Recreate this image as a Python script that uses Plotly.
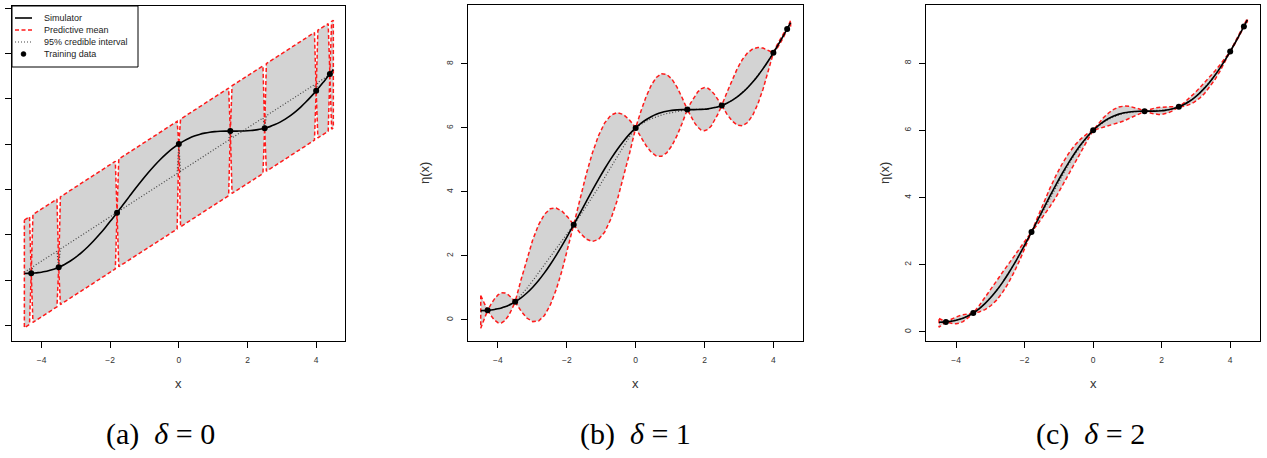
import plotly.graph_objects as go

# ---------------- data ----------------
train_x = [-4.3, -3.5, -1.8, 0.0, 1.5, 2.5, 4.0, 4.4]
train_y = [0.299, 0.564, 2.973, 6.000, 6.571, 6.699, 8.346, 9.093]

grid_x = [-4.5, -4.4, -4.3,
          -4.2, -4.1, -4.0, -3.9, -3.8, -3.7, -3.6, -3.5,
          -3.33, -3.16, -2.99, -2.82, -2.65, -2.48, -2.31, -2.14, -1.97, -1.8,
          -1.62, -1.44, -1.26, -1.08, -0.9, -0.72, -0.54, -0.36, -0.18, 0.0,
          0.15, 0.3, 0.45, 0.6, 0.75, 0.9, 1.05, 1.2, 1.35, 1.5,
          1.6, 1.7, 1.8, 1.9, 2.0, 2.1, 2.2, 2.3, 2.4, 2.5,
          2.65, 2.8, 2.95, 3.1, 3.25, 3.4, 3.55, 3.7, 3.85, 4.0,
          4.1, 4.2, 4.3, 4.4, 4.5]

sim_y = [0.289, 0.293, 0.299,
         0.310, 0.325, 0.346, 0.374, 0.409, 0.452, 0.503, 0.564,
         0.688, 0.840, 1.022, 1.231, 1.468, 1.731, 2.016, 2.321, 2.642, 2.973,
         3.331, 3.690, 4.046, 4.391, 4.722, 5.032, 5.318, 5.576, 5.804, 6.000,
         6.139, 6.255, 6.350, 6.425, 6.482, 6.522, 6.548, 6.562, 6.569, 6.571,
         6.571, 6.571, 6.573, 6.577, 6.584, 6.595, 6.612, 6.634, 6.663, 6.699,
         6.768, 6.858, 6.968, 7.101, 7.256, 7.433, 7.632, 7.852, 8.091, 8.346,
         8.525, 8.710, 8.899, 9.093, 9.289]

# panel (a): delta = 0
a_x = [-4.5, -4.35, -4.3, -4.25, -3.55, -3.5, -3.45, -1.85, -1.8, -1.75,
       -0.05, 0.0, 0.05, 1.45, 1.5, 1.55, 2.45, 2.5, 2.55, 3.95, 4.0, 4.05,
       4.35, 4.4, 4.45, 4.5]
a_upper = [2.64, 2.79, 0.30, 2.89, 3.57, 0.56, 3.67, 5.24, 2.97, 5.34,
           7.00, 6.00, 7.10, 8.47, 6.57, 8.57, 9.45, 6.70, 9.55, 10.92, 8.35, 11.02,
           11.31, 9.09, 11.41, 11.46]
a_lower = [-2.11, -1.96, 0.30, -1.87, -1.18, 0.56, -1.08, 0.49, 2.97, 0.59,
           2.25, 6.00, 2.35, 3.72, 6.57, 3.82, 4.70, 6.70, 4.80, 6.17, 8.35, 6.27,
           6.56, 9.09, 6.66, 6.71]
a_mean = [0.34, 0.49, 0.30, 0.59, 1.27, 0.56, 1.37, 2.94, 2.97, 3.04,
          4.70, 6.00, 4.80, 6.17, 6.57, 6.27, 7.15, 6.70, 7.25, 8.62, 8.35, 8.72,
          9.01, 9.09, 9.11, 9.16]

# panel (b): delta = 1
b_mean = [0.25, 0.28, 0.299,
          0.310, 0.325, 0.346, 0.374, 0.409, 0.452, 0.503, 0.564,
          0.765, 0.987, 1.224, 1.469, 1.718, 1.969, 2.218, 2.468, 2.719, 2.973,
          3.248, 3.531, 3.828, 4.134, 4.452, 4.775, 5.100, 5.417, 5.721, 6.000,
          6.114, 6.208, 6.285, 6.349, 6.402, 6.446, 6.483, 6.515, 6.544, 6.571,
          6.571, 6.571, 6.573, 6.577, 6.584, 6.595, 6.612, 6.634, 6.663, 6.699,
          6.768, 6.858, 6.968, 7.101, 7.256, 7.433, 7.632, 7.852, 8.091, 8.346,
          8.525, 8.710, 8.899, 9.093, 9.27]
b_halfwidth = [0.51, 0.26, 0.0,
               0.18, 0.332, 0.434, 0.47, 0.434, 0.332, 0.18, 0.0,
               0.488, 0.929, 1.278, 1.503, 1.58, 1.503, 1.278, 0.929, 0.488, 0.0,
               0.527, 1.003, 1.379, 1.621, 1.705, 1.621, 1.379, 1.003, 0.527, 0.0,
               0.399, 0.759, 1.044, 1.227, 1.29, 1.227, 1.044, 0.759, 0.399, 0.0,
               0.209, 0.397, 0.546, 0.642, 0.675, 0.642, 0.546, 0.397, 0.209, 0.0,
               0.337, 0.641, 0.882, 1.037, 1.09, 1.037, 0.882, 0.641, 0.337, 0.0,
               0.057, 0.08, 0.057, 0.0, 0.09]

# panel (c): delta = 2
c_mean = [0.27, 0.285, 0.299,
          0.310, 0.325, 0.346, 0.374, 0.409, 0.452, 0.503, 0.564,
          0.688, 0.840, 1.022, 1.231, 1.468, 1.731, 2.016, 2.321, 2.642, 2.973,
          3.315, 3.660, 4.006, 4.343, 4.672, 4.984, 5.278, 5.546, 5.788, 6.000,
          6.130, 6.240, 6.330, 6.405, 6.462, 6.502, 6.532, 6.550, 6.562, 6.571,
          6.571, 6.571, 6.573, 6.577, 6.584, 6.595, 6.612, 6.634, 6.663, 6.699,
          6.768, 6.858, 6.968, 7.101, 7.256, 7.433, 7.632, 7.852, 8.091, 8.346,
          8.525, 8.710, 8.899, 9.093, 9.28]
c_halfwidth = [0.13, 0.065, 0.0,
               0.042, 0.078, 0.102, 0.11, 0.102, 0.078, 0.042, 0.0,
               0.093, 0.176, 0.243, 0.285, 0.30, 0.285, 0.243, 0.176, 0.093, 0.0,
               0.105, 0.20, 0.275, 0.323, 0.34, 0.323, 0.275, 0.20, 0.105, 0.0,
               0.071, 0.135, 0.186, 0.219, 0.23, 0.219, 0.186, 0.135, 0.071, 0.0,
               0.034, 0.065, 0.089, 0.105, 0.11, 0.105, 0.089, 0.065, 0.034, 0.0,
               0.049, 0.094, 0.129, 0.152, 0.16, 0.152, 0.129, 0.094, 0.049, 0.0,
               0.02, 0.03, 0.02, 0.0, 0.05]

x_ticks = [-4, -2, 0, 2, 4]
a_y_ticks = [-2, 0, 2, 4, 6, 8, 10, 12]
bc_y_ticks = [0, 2, 4, 6, 8]
legend_labels = ["Simulator", "Predictive mean", "95% credible interval", "Training data"]
captions = ["(a)\u2002<i>δ</i> = 0", "(b)\u2002<i>δ</i> = 1", "(c)\u2002<i>δ</i> = 2"]
caption_px = [160, 635, 1090]

# ---------------- styles ----------------
W, H = 1267, 458
RED = "#ff1a1a"
RED_DASH = "4px,2.5px"
DOT = "1px,2px"

def polygon(xs, lo, hi):
    px = list(xs) + list(reversed(xs)) + [xs[0]]
    py = list(hi) + list(reversed(lo)) + [hi[0]]
    return px, py

b_upper = [m + w for m, w in zip(b_mean, b_halfwidth)]
b_lower = [m - w for m, w in zip(b_mean, b_halfwidth)]
c_upper = [m + w for m, w in zip(c_mean, c_halfwidth)]
c_lower = [m - w for m, w in zip(c_mean, c_halfwidth)]

panels = [
    (a_x, a_lower, a_upper, a_mean, "x", "y"),
    (grid_x, b_lower, b_upper, b_mean, "x2", "y2"),
    (grid_x, c_lower, c_upper, c_mean, "x3", "y3"),
]

fig = go.Figure()
for i, (bx, lo, hi, mean, xa, ya) in enumerate(panels):
    px, py = polygon(bx, lo, hi)
    fig.add_trace(go.Scatter(x=px, y=py, mode="lines", fill="toself",
                             fillcolor="#d3d3d3",
                             line=dict(width=0, color="rgba(0,0,0,0)"),
                             hoverinfo="skip", showlegend=False,
                             xaxis=xa, yaxis=ya))
    fig.add_trace(go.Scatter(x=px, y=py, mode="lines",
                             line=dict(color=RED, width=1.5, dash=RED_DASH),
                             name=legend_labels[1], showlegend=False,
                             xaxis=xa, yaxis=ya))
    fig.add_trace(go.Scatter(x=bx, y=mean, mode="lines",
                             line=dict(color="#444444", width=1.2, dash=DOT),
                             name=legend_labels[2], showlegend=False,
                             xaxis=xa, yaxis=ya))
    fig.add_trace(go.Scatter(x=grid_x, y=sim_y, mode="lines",
                             line=dict(color="black", width=1.6, shape="spline"),
                             name=legend_labels[0], showlegend=False,
                             xaxis=xa, yaxis=ya))
    fig.add_trace(go.Scatter(x=train_x, y=train_y, mode="markers",
                             marker=dict(color="black", size=6),
                             name=legend_labels[3], showlegend=False,
                             xaxis=xa, yaxis=ya))

tickfont = dict(family="Liberation Sans, Arial, sans-serif", size=8.5, color="#333333")
axis_common = dict(showline=True, mirror=True, linecolor="black", linewidth=1,
                   ticks="outside", ticklen=6, tickwidth=1, tickcolor="black",
                   showgrid=False, zeroline=False, tickfont=tickfont,
                   ticklabelstandoff=5)

ybot = 1 - 341 / H
fig.update_layout(
    width=W, height=H, margin=dict(l=0, r=0, t=0, b=0),
    paper_bgcolor="white", plot_bgcolor="white", showlegend=False,
    xaxis=dict(domain=[12 / W, 345 / W], range=[-4.86, 4.84], tickvals=x_ticks,
               anchor="y", **axis_common),
    yaxis=dict(domain=[ybot, 1 - 6 / H], range=[-2.69, 12.09], tickvals=a_y_ticks,
               showticklabels=False, anchor="x", **axis_common),
    xaxis2=dict(domain=[468 / W, 803 / W], range=[-4.87, 4.86], tickvals=x_ticks,
                anchor="y2", **axis_common),
    yaxis2=dict(domain=[ybot, 1 - 5 / H], range=[-0.66, 9.84], tickvals=bc_y_ticks,
                tickangle=-90, anchor="x2", **axis_common),
    xaxis3=dict(domain=[926 / W, 1260 / W], range=[-4.88, 4.87], tickvals=x_ticks,
                anchor="y3", **axis_common),
    yaxis3=dict(domain=[ybot, 1 - 5 / H], range=[-0.27, 9.73], tickvals=bc_y_ticks,
                tickangle=-90, anchor="x3", **axis_common),
)

# ---- legend box (R style) drawn in panel (a) ----
def PX(v):
    return v / W

def PY(v):
    return 1 - v / H

shapes = [dict(type="rect", xref="paper", yref="paper", layer="above",
               x0=PX(12), x1=PX(138), y0=PY(67), y1=PY(6),
               line=dict(color="black", width=1), fillcolor="white")]
leg_y = [18, 30, 42, 54]
shapes.append(dict(type="line", xref="paper", yref="paper", layer="above",
                   x0=PX(15), x1=PX(32), y0=PY(leg_y[0]), y1=PY(leg_y[0]),
                   line=dict(color="black", width=1.6)))
shapes.append(dict(type="line", xref="paper", yref="paper", layer="above",
                   x0=PX(15), x1=PX(32), y0=PY(leg_y[1]), y1=PY(leg_y[1]),
                   line=dict(color=RED, width=1.5, dash=RED_DASH)))
shapes.append(dict(type="line", xref="paper", yref="paper", layer="above",
                   x0=PX(15), x1=PX(32), y0=PY(leg_y[2]), y1=PY(leg_y[2]),
                   line=dict(color="#444444", width=1.2, dash=DOT)))
shapes.append(dict(type="circle", xref="paper", yref="paper", layer="above",
                   x0=PX(21), x1=PX(26), y0=PY(leg_y[3] + 2.5), y1=PY(leg_y[3] - 2.5),
                   line=dict(color="black", width=0.5), fillcolor="black"))

annots = []
leg_font = dict(family="Liberation Sans, Arial, sans-serif", size=9, color="#222222")
for lab, ly in zip(legend_labels, leg_y):
    annots.append(dict(text=lab, xref="paper", x=PX(42), yref="paper", y=PY(ly),
                       showarrow=False, xanchor="left", yanchor="middle", font=leg_font))

label_font = dict(family="Liberation Sans, Arial, sans-serif", size=13, color="#333333")
for xr in ["x", "x2", "x3"]:
    annots.append(dict(text="x", xref=xr, x=0, yref="paper", y=PY(383),
                       showarrow=False, font=label_font, xanchor="center", yanchor="middle"))
for xp in [425, 885]:
    annots.append(dict(text="η(x)", xref="paper", x=PX(xp), yref="paper", y=PY(173),
                       showarrow=False, font=label_font, textangle=-90,
                       xanchor="center", yanchor="middle"))
for cap, cx in zip(captions, caption_px):
    annots.append(dict(text=cap, xref="paper", x=PX(cx), yref="paper", y=PY(434),
                       showarrow=False, xanchor="center", yanchor="middle",
                       font=dict(family="Liberation Serif, DejaVu Serif, serif",
                                 size=30, color="black")))
fig.update_layout(annotations=annots, shapes=shapes)

fig.write_html("out.html")
